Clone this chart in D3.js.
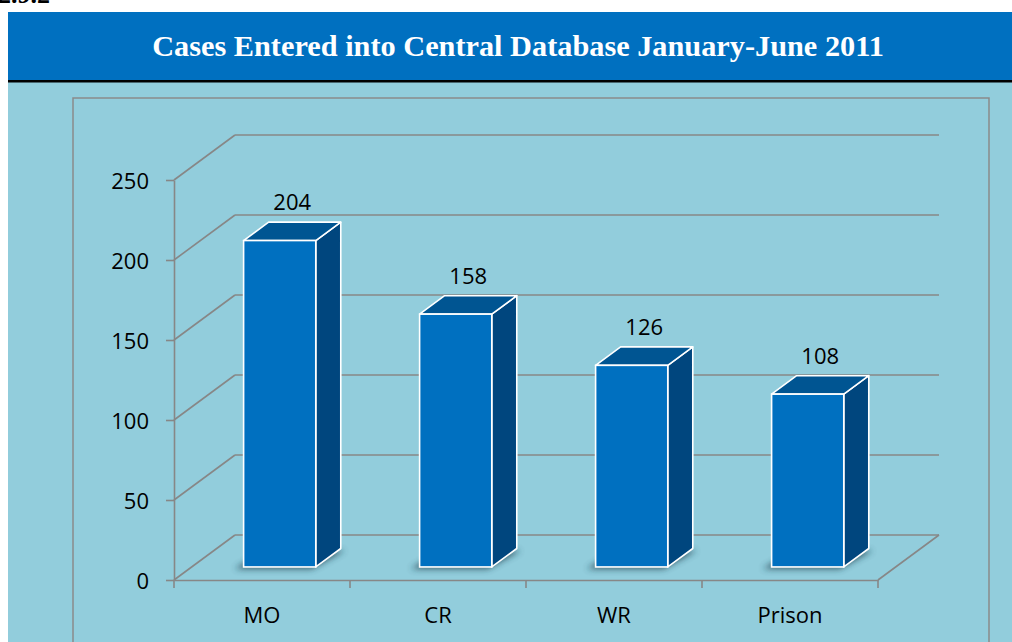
<!DOCTYPE html>
<html><head><meta charset="utf-8">
<script src="https://cdn.jsdelivr.net/npm/d3@7"></script>
<style>html,body{margin:0;padding:0;background:#fff;overflow:hidden}</style>
</head><body>
<script>
const categories = ["MO", "CR", "WR", "Prison"];
const values = [204, 158, 126, 108];
const yTicks = [0, 50, 100, 150, 200, 250];
const titleText = "Cases Entered into Central Database January-June 2011";
const headingText = "2.9.2";

const W = 1012, H = 642;
const svg = d3.select("body").append("svg").attr("width", W).attr("height", H)
  .style("font-family", "'Open Sans', sans-serif");

const defs = svg.append("defs");
defs.append("filter").attr("id", "shadow").attr("x", "-50%").attr("y", "-50%").attr("width", "200%").attr("height", "200%")
  .append("feGaussianBlur").attr("stdDeviation", 3);

// heading remnant
svg.append("text").attr("x", 50).attr("y", 3).attr("text-anchor", "end")
  .attr("font-family", "'Liberation Serif', serif").attr("font-weight", "bold").attr("font-size", 26)
  .attr("fill", "#000").text(headingText);

// backgrounds
svg.append("rect").attr("x", 8).attr("y", 82).attr("width", W - 8).attr("height", H - 82).attr("fill", "#92CDDC");
svg.append("rect").attr("x", 8).attr("y", 12).attr("width", W - 8).attr("height", 68).attr("fill", "#0070C0");
svg.append("rect").attr("x", 8).attr("y", 80).attr("width", W - 8).attr("height", 2.5).attr("fill", "#000");

const title = svg.append("text").attr("x", 518).attr("y", 56).attr("text-anchor", "middle")
  .attr("font-family", "'Liberation Serif', serif").attr("font-weight", "bold").attr("font-size", 27)
  .attr("fill", "#fff").text(titleText);
{
  let fs = 27; const target = 732;
  const len = title.node().getComputedTextLength();
  fs = fs * target / len;
  title.attr("font-size", fs);
}

// plot frame
svg.append("rect").attr("x", 73).attr("y", 98).attr("width", 916).attr("height", 600)
  .attr("fill", "none").attr("stroke", "#8a8a8a").attr("stroke-width", 1.5);

// scales
const x = d3.scaleBand().domain(categories).range([174, 878]).padding(0);
const y = d3.scaleLinear().domain([0, 250]).range([580, 180]);
const DX = 61, DY = -45;           // full depth offset
const d0 = 0.29, d1 = 0.70;        // bar depth span
const barW = x.bandwidth() * 0.41;
const gridColor = "#878787";

const g = svg.append("g").attr("stroke", gridColor).attr("stroke-width", 1.6).attr("fill", "none");
// back wall gridlines + side wall diagonals
yTicks.forEach(t => {
  g.append("line").attr("x1", x.range()[0] + DX).attr("x2", x.range()[1] + DX)
    .attr("y1", y(t) + DY).attr("y2", y(t) + DY);
  g.append("line").attr("x1", x.range()[0]).attr("y1", y(t))
    .attr("x2", x.range()[0] + DX).attr("y2", y(t) + DY);
});
// floor right edge
g.append("line").attr("x1", x.range()[1]).attr("y1", y(0)).attr("x2", x.range()[1] + DX).attr("y2", y(0) + DY);

// y axis
const yAxis = d3.axisLeft(y).tickValues(yTicks).tickSize(8).tickSizeOuter(0).tickPadding(17);
const ya = svg.append("g").attr("transform", `translate(${x.range()[0]},0)`).call(yAxis);
ya.select(".domain").attr("stroke", gridColor).attr("stroke-width", 1.6);
ya.selectAll(".tick line").attr("stroke", gridColor).attr("stroke-width", 1.6);
ya.selectAll(".tick text").attr("font-size", 22).attr("font-family", "'Open Sans', sans-serif")
  .attr("fill", "#000").attr("dy", null).attr("y", 8.5);

// x axis
const xAxis = d3.axisBottom(x).tickSize(0).tickPadding(0);
const xa = svg.append("g").attr("transform", `translate(0,${y(0)})`).call(xAxis);
xa.select(".domain").attr("stroke", gridColor).attr("stroke-width", 1.6);
xa.selectAll(".tick text").attr("font-size", 22).attr("font-family", "'Open Sans', sans-serif")
  .attr("fill", "#000").attr("dy", null).attr("y", 43);
// category boundary ticks
const bounds = categories.map(c => x(c)).concat([x.range()[1]]);
xa.selectAll(".bnd").data(bounds).enter().append("line").attr("class", "bnd")
  .attr("x1", d => d).attr("x2", d => d).attr("y1", 0).attr("y2", 8)
  .attr("stroke", gridColor).attr("stroke-width", 1.6);

// bars
const bars = svg.append("g");
categories.forEach((c, i) => {
  const v = values[i];
  const xc = x(c) + x.bandwidth() / 2;
  const fx0 = xc - barW / 2 + d0 * DX, fx1 = xc + barW / 2 + d0 * DX;
  const fyT = y(v) + d0 * DY, fyB = y(0) + d0 * DY;
  const ox = (d1 - d0) * DX, oy = (d1 - d0) * DY;
  // shadow on floor
  bars.append("polygon")
    .attr("points", [[fx0 - 9, fyB + 2], [fx1 - 4, fyB + 2], [fx1 + ox + 4, fyB + oy + 2], [fx0 + ox - 4, fyB + oy + 2]].map(p => p.join(",")).join(" "))
    .attr("fill", "#1c3c4c").attr("opacity", 0.75).attr("filter", "url(#shadow)");
  // side
  bars.append("polygon")
    .attr("points", [[fx1, fyT], [fx1 + ox, fyT + oy], [fx1 + ox, fyB + oy], [fx1, fyB]].map(p => p.join(",")).join(" "))
    .attr("fill", "#00467E").attr("stroke", "#fff").attr("stroke-width", 1.6).attr("stroke-linejoin", "round");
  // top
  bars.append("polygon")
    .attr("points", [[fx0, fyT], [fx1, fyT], [fx1 + ox, fyT + oy], [fx0 + ox, fyT + oy]].map(p => p.join(",")).join(" "))
    .attr("fill", "#005592").attr("stroke", "#fff").attr("stroke-width", 1.6).attr("stroke-linejoin", "round");
  // front
  bars.append("rect").attr("x", fx0).attr("y", fyT).attr("width", fx1 - fx0).attr("height", fyB - fyT)
    .attr("fill", "#0070C0").attr("stroke", "#fff").attr("stroke-width", 1.6);
  // label
  bars.append("text").attr("x", (fx0 + fx1) / 2 + ox / 2).attr("y", fyT + oy / 2 - 21)
    .attr("text-anchor", "middle").attr("font-size", 22).attr("fill", "#000").text(v);
});
</script>
</body></html>
